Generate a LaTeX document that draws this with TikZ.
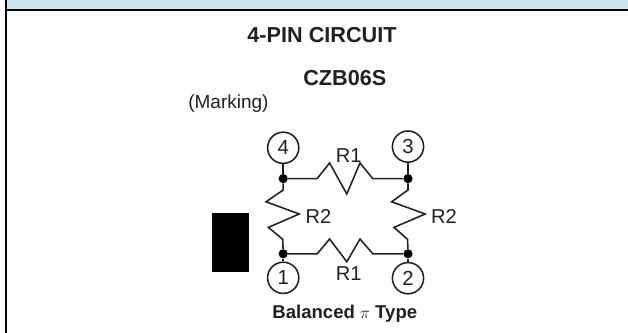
\documentclass[tikz,border=0pt]{standalone}
\usepackage{fontspec}
\usepackage{amsmath}
\setmainfont{Liberation Sans}
\definecolor{bandblue}{HTML}{CCE4F2}
\definecolor{inkgray}{HTML}{231F20}
\tikzset{
	pin/.style={draw=inkgray,line width=1.1pt,circle,inner sep=0pt,minimum size=0.78cm,font=\fontsize{14.5}{16}\selectfont,text=inkgray},
	joint/.style={fill=black,circle,inner sep=0pt,minimum size=0.23cm},
	wire/.style={draw=inkgray,line width=1.1pt},
	reslabel/.style={font=\fontsize{14.3}{16}\selectfont,text=inkgray,inner sep=0pt},
	boldlabel/.style={font=\bfseries\fontsize{15.4}{18}\selectfont,text=inkgray,inner sep=0pt}
}

\begin{document}
\begin{tikzpicture}
	\useasboundingbox (0,0) rectangle (15.7,8.325);
	% header band and frame
	\fill[bandblue] (0.15,8.075) rectangle (15.7,8.325);
	\draw[line width=1.42pt] (0.15,8.075) -- (15.7,8.075);
	\draw[line width=1.42pt] (0.15,0) -- (0.15,8.325);

	% titles
	\node[boldlabel] (title) at (8.05,7.45) {4-PIN CIRCUIT};
	\node[boldlabel] (part) at (8.62,6.375) {CZB06S};
	\node[reslabel,font=\fontsize{13.5}{16}\selectfont] (marking) at (5.71,5.74) {(Marking)};
	\node[boldlabel,font=\bfseries\fontsize{13.2}{16}\selectfont] (kind) at (8.62,0.475) {Balanced $\pi$ Type};

	% marking block
	\fill[black] (5.29,1.52) rectangle (6.23,3.01);

	% pins
	\node[pin] (pin4) at (7.08,4.63) {4};
	\node[pin] (pin3) at (10.2,4.66) {3};
	\node[pin] (pin1) at (7.08,1.38) {1};
	\node[pin] (pin2) at (10.2,1.37) {2};

	\node[joint] (dot4) at (7.08,3.86) {};
	\node[joint] (dot3) at (10.2,3.86) {};
	\node[joint] (dot1) at (7.08,1.98) {};
	\node[joint] (dot2) at (10.2,1.98) {};

	\draw[wire] (pin4) -- (dot4);
	\draw[wire] (pin3) -- (dot3);
	\draw[wire] (pin1) -- (dot1);
	\draw[wire] (pin2) -- (dot2);

	% resistors
	\draw[wire] (dot4) -- (7.93,3.86) -- (8.24,4.25) -- (8.67,3.475) -- (9.0,4.25) -- (9.32,3.86) -- (dot3);
	\draw[wire] (dot1) -- (7.93,1.98) -- (8.24,2.35) -- (8.67,1.78) -- (9.0,2.35) -- (9.32,1.98) -- (dot2);
	\draw[wire] (dot4) -- (7.08,3.575) -- (6.65,3.28) -- (7.48,2.975) -- (6.71,2.64) -- (7.07,2.34) -- (dot1);
	\draw[wire] (dot3) -- (10.2,3.575) -- (9.79,3.28) -- (10.63,2.975) -- (9.85,2.64) -- (10.19,2.34) -- (dot2);

	\node[reslabel] (r1top) at (8.72,4.425) {R1};
	\node[reslabel] (r1bot) at (8.72,1.475) {R1};
	\node[reslabel] (r2left) at (7.96,2.91) {R2};
	\node[reslabel] (r2right) at (11.1,2.91) {R2};
\end{tikzpicture}
\end{document}
